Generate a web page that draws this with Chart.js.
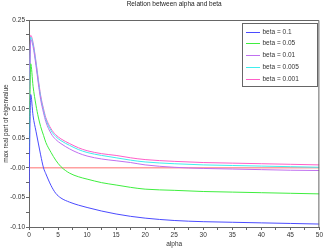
<!DOCTYPE html>
<html>
<head>
    <meta charset="UTF-8">
    <title>Relation between alpha and beta</title>
    <style>
        body { margin: 0; background: #fff; }
        #chart { display: block; }
    </style>
</head>
<body>
    <canvas id="chart" width="324" height="252"></canvas>

    <script src="https://cdn.jsdelivr.net/npm/chart.js"></script>
    <script>
        // values
        const alphaValues = [0, 0.3, 0.7, 1.2, 1.6, 2, 2.5, 2.9, 3.8, 4.6, 5.5, 7, 8.5, 10, 12.5, 15, 17.5, 20, 25, 30, 35, 40, 45, 50];
        const beta01 = [-0.04, 0.124, 0.088, 0.062, 0.042, 0.022, 0.0, -0.010, -0.030, -0.043, -0.051, -0.058, -0.063, -0.067, -0.073, -0.078, -0.082, -0.085, -0.089, -0.091, -0.092, -0.093, -0.094, -0.095];
        const beta005 = [0.01, 0.176, 0.138, 0.106, 0.086, 0.070, 0.055, 0.043, 0.026, 0.013, 0.002, -0.009, -0.015, -0.019, -0.025, -0.029, -0.033, -0.036, -0.038, -0.040, -0.041, -0.042, -0.043, -0.044];
        const beta001 = [0.06, 0.217, 0.205, 0.173, 0.143, 0.116, 0.093, 0.078, 0.058, 0.048, 0.041, 0.032, 0.025, 0.020, 0.015, 0.012, 0.009, 0.005, 0.001, -0.001, -0.002, -0.003, -0.004, -0.0045];
        const beta0005 = [0.06, 0.221, 0.209, 0.177, 0.147, 0.120, 0.097, 0.082, 0.063, 0.053, 0.046, 0.038, 0.031, 0.026, 0.021, 0.017, 0.013, 0.010, 0.007, 0.005, 0.004, 0.003, 0.002, 0.001];
        const beta0001 = [0.06, 0.224, 0.212, 0.180, 0.150, 0.123, 0.100, 0.085, 0.066, 0.056, 0.049, 0.041, 0.034, 0.029, 0.024, 0.021, 0.017, 0.014, 0.011, 0.009, 0.008, 0.007, 0.006, 0.005];
        const zeroLineX = [0, 50];
        const zeroLineY = [0, 0];

        const seriesLabels = ['beta = 0.1', 'beta = 0.05', 'beta = 0.01', 'beta = 0.005', 'beta = 0.001'];
        const seriesColors = ['#4b4bff', '#3fee3f', '#c070f0', '#3feeee', '#ff5fc8'];
        const seriesValues = [beta01, beta005, beta001, beta0005, beta0001];

        const FONT = '"Liberation Sans", Arial, sans-serif';

        function toPoints(xs, ys) {
            return xs.map((x, i) => ({ x: x, y: ys[i] }));
        }

        const datasets = seriesValues.map((vals, i) => ({
            label: seriesLabels[i],
            data: toPoints(alphaValues, vals),
            borderColor: seriesColors[i],
            borderWidth: 1,
            pointRadius: 0,
            fill: false,
            cubicInterpolationMode: 'monotone'
        }));
        datasets.push({
            label: 'zero',
            data: toPoints(zeroLineX, zeroLineY),
            borderColor: '#ffa0a0',
            borderWidth: 1.5,
            pointRadius: 0,
            fill: false
        });

        // frame, title and legend box
        const decorations = {
            id: 'decorations',
            afterDraw(chart) {
                const c = chart.ctx;
                const a = chart.chartArea;
                c.save();
                c.strokeStyle = '#666';
                c.lineWidth = 1;
                c.beginPath();
                c.moveTo(a.left, a.top + 0.5);
                c.lineTo(a.right - 0.5, a.top + 0.5);
                c.lineTo(a.right - 0.5, a.bottom);
                c.stroke();

                c.fillStyle = '#222';
                c.font = '6.5px ' + FONT;
                c.textAlign = 'center';
                c.textBaseline = 'middle';
                c.fillText('Relation between alpha and beta', (a.left + a.right) / 2, 4.5);

                const bx = 242.5, by = 23.5, bw = 75, bh = 63;
                c.fillStyle = '#fff';
                c.fillRect(bx, by, bw, bh);
                c.strokeStyle = '#666';
                c.strokeRect(bx, by, bw, bh);
                c.textAlign = 'left';
                seriesLabels.forEach((lab, i) => {
                    const y = Math.round(31.5 + i * 11.8) + 0.5;
                    c.strokeStyle = seriesColors[i];
                    c.beginPath();
                    c.moveTo(246, y);
                    c.lineTo(260, y);
                    c.stroke();
                    c.fillStyle = '#333';
                    c.fillText(lab, 262.5, y);
                });
                c.restore();
            }
        };

        new Chart(document.getElementById('chart'), {
            type: 'line',
            data: { datasets: datasets },
            plugins: [decorations],
            options: {
                responsive: false,
                animation: false,
                layout: { padding: { top: 20, right: 4, left: 0, bottom: 0 } },
                plugins: {
                    legend: { display: false },
                    title: { display: false },
                    tooltip: { enabled: false }
                },
                scales: {
                    x: {
                        type: 'linear',
                        min: 0,
                        max: 50,
                        afterFit: s => { s.height = 25; },
                        ticks: {
                            stepSize: 2.5,
                            autoSkip: false,
                            maxRotation: 0,
                            padding: 1,
                            color: '#333',
                            font: { family: FONT, size: 6.5 },
                            callback: v => (Math.round(v * 10) % 50 === 0 ? String(v) : '')
                        },
                        grid: { drawOnChartArea: false, tickLength: 3, color: '#666' },
                        border: { color: '#666' },
                        title: {
                            display: true,
                            text: 'alpha',
                            color: '#333',
                            font: { family: FONT, size: 6.5 },
                            padding: { top: 0, bottom: 4 }
                        }
                    },
                    y: {
                        min: -0.1,
                        max: 0.25,
                        afterFit: s => { s.width = 29; },
                        ticks: {
                            stepSize: 0.025,
                            autoSkip: false,
                            padding: 1,
                            color: '#333',
                            font: { family: FONT, size: 6.5 },
                            callback: v => (Math.round(v * 1000) % 50 === 0 ? v.toFixed(2) : '')
                        },
                        grid: { drawOnChartArea: false, tickLength: 3, color: '#666' },
                        border: { color: '#666' },
                        title: {
                            display: true,
                            text: 'max real part of eigenvalue',
                            color: '#333',
                            font: { family: FONT, size: 6.5 },
                            padding: { top: 2, bottom: 0 }
                        }
                    }
                }
            }
        });
    </script>
</body>
</html>
